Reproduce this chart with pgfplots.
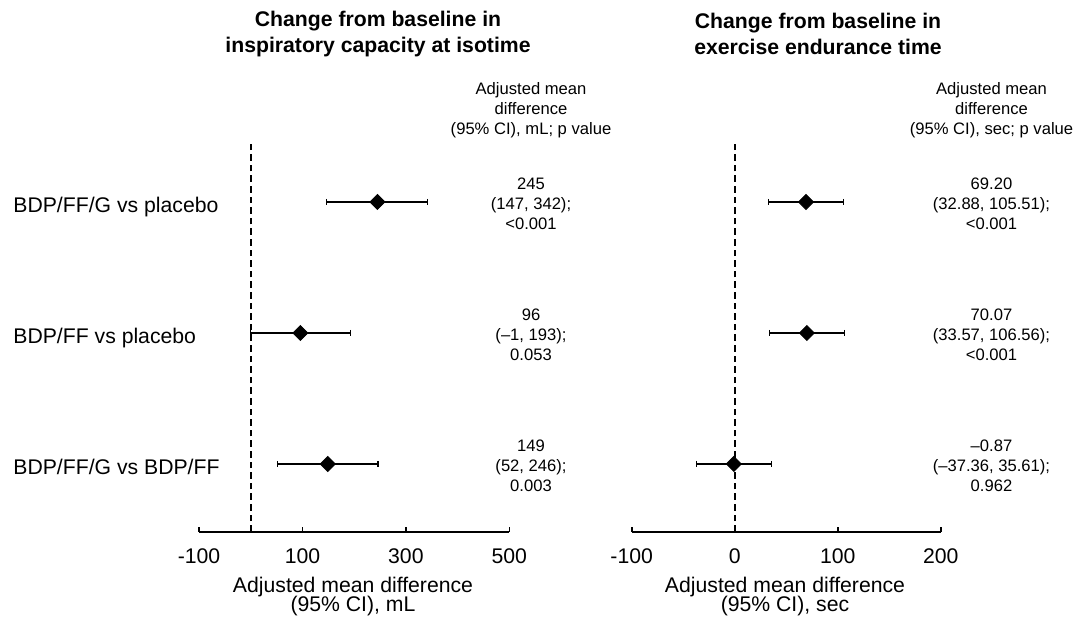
\documentclass[border=0pt]{standalone}
\usepackage{fontspec}
\setmainfont{Liberation Sans}
\usepackage{pgfplots}
\pgfplotsset{compat=1.18}

\newcommand{\lbl}{\fontsize{10.6}{9.2}\selectfont}
\newcommand{\ann}{\fontsize{8.3}{10}\selectfont}
\newcommand{\ttl}{\fontsize{10.6}{13}\selectfont\bfseries}

\pgfplotsset{
  forest/.style={
    scale only axis, clip=false,
    axis x line*=bottom, axis y line=none,
    ymin=0.483, ymax=3.45, height=194.35pt,
    xtick align=inside, major tick length=2.5pt,
    axis line style={line width=0.8pt},
    every tick/.style={black, line width=0.8pt},
    xticklabel style={font=\lbl, yshift=-5pt},
  },
  ci/.style={black, line width=0.65pt, mark=|, mark size=1.5pt, mark options={line width=0.65pt}},
  est/.style={only marks, mark=square*, mark size=2.65pt, mark options={rotate=45, fill=black, draw=black}},
  zero/.style={black, line width=0.85pt, dash pattern=on 3.3pt off 2pt},
}

\begin{document}
\begin{tikzpicture}
\useasboundingbox (0,0) rectangle (539.5pt,-310.5pt);

% inspiratory capacity (mL)
\begin{axis}[forest, at={(99.5pt,-265.85pt)}, anchor=south west,
  width=155.15pt, xmin=-100, xmax=500,
  xtick={-100,100,300,500}, xticklabels={-100,100,300,500}]
\addplot[zero] coordinates {(0,0.483) (0,3.45)};
\addplot[ci] coordinates {(147,3) (342,3)};
\addplot[ci] coordinates {(-1,2) (193,2)};
\addplot[ci] coordinates {(52,1) (246,1)};
\addplot[est] coordinates {(245,3) (96,2) (149,1)};
\end{axis}

% exercise endurance time (sec)
\begin{axis}[forest, at={(315.85pt,-265.85pt)}, anchor=south west,
  width=154.5pt, xmin=-100, xmax=200,
  xtick={-100,0,100,200}, xticklabels={-100,0,100,200}]
\addplot[zero] coordinates {(0,0.483) (0,3.45)};
\addplot[ci] coordinates {(32.88,3) (105.51,3)};
\addplot[ci] coordinates {(33.57,2) (106.56,2)};
\addplot[ci] coordinates {(-37.36,1) (35.61,1)};
\addplot[est] coordinates {(69.20,3) (70.07,2) (-0.87,1)};
\end{axis}

% titles
\node[align=center, font=\ttl] at (189pt,-17pt) {Change from baseline in\\inspiratory capacity at isotime};
\node[align=center, font=\ttl] at (409pt,-17pt) {Change from baseline in\\exercise endurance time};

% column headers
\node[align=center, font=\ann] at (265.5pt,-55pt) {Adjusted mean\\difference\\(95\% CI), mL; p value};
\node[align=center, font=\ann] at (495.75pt,-55pt) {Adjusted mean\\difference\\(95\% CI), sec; p value};

% row labels
\node[anchor=base west, font=\lbl, inner sep=0pt] at (6.5pt,-106.3pt) {BDP/FF/G vs placebo};
\node[anchor=base west, font=\lbl, inner sep=0pt] at (6.5pt,-171.8pt) {BDP/FF vs placebo};
\node[anchor=base west, font=\lbl, inner sep=0pt] at (6.5pt,-237.3pt) {BDP/FF/G vs BDP/FF};

% values
\node[align=center, font=\ann] at (265.5pt,-102pt) {245\\(147, 342);\\<0.001};
\node[align=center, font=\ann] at (265.5pt,-167.5pt) {96\\(–1, 193);\\0.053};
\node[align=center, font=\ann] at (265.5pt,-233pt) {149\\(52, 246);\\0.003};
\node[align=center, font=\ann] at (495.75pt,-102pt) {69.20\\(32.88, 105.51);\\<0.001};
\node[align=center, font=\ann] at (495.75pt,-167.5pt) {70.07\\(33.57, 106.56);\\<0.001};
\node[align=center, font=\ann] at (495.75pt,-233pt) {–0.87\\(–37.36, 35.61);\\0.962};

% axis labels
\node[anchor=base, font=\lbl] at (176.5pt,-296.3pt) {Adjusted mean difference};
\node[anchor=base, font=\lbl] at (176.5pt,-305.5pt) {(95\% CI), mL};
\node[anchor=base, font=\lbl] at (392.5pt,-296.3pt) {Adjusted mean difference};
\node[anchor=base, font=\lbl] at (392.5pt,-305.5pt) {(95\% CI), sec};
\end{tikzpicture}
\end{document}
